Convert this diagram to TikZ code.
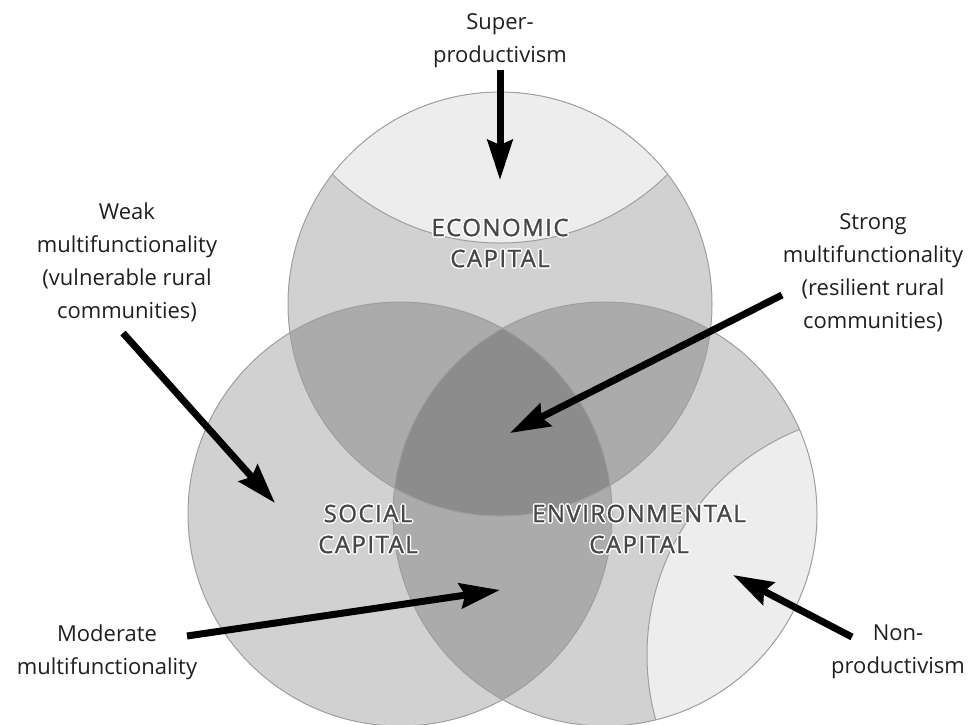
\documentclass[tikz,border=0pt]{standalone}
\usepackage{fontspec}
\setmainfont{Open Sans}
\newfontfamily\capsfont[LetterSpace=6, FakeBold=1.2]{Open Sans}
\usetikzlibrary{arrows.meta}

% circle label with a soft white halo
\newcommand{\glowlabel}[3]{%
  \foreach \dx/\dy in {1.5/0,-1.5/0,0/1.5,0/-1.5,1/1,-1/1,1/-1,-1/-1}
    \node[caplab, text=white, xshift=\dx pt, yshift=\dy pt] at #2 {#3};
  \node[caplab] (#1) at #2 {#3};}

\begin{document}
\begin{tikzpicture}[x=1pt, y=-1pt,
  capital/.style={fill=black, fill opacity=0.18},
  rim/.style={draw=black!38, line width=1pt},
  pale/.style={fill=black!7},
  caplab/.style={font=\capsfont\fontsize{24}{31}\selectfont, text=black!72, align=center},
  note/.style={font=\fontsize{22}{33}\selectfont, text=black!88, align=center, inner sep=2pt},
  bigarrow/.style={line width=7pt, -{Stealth[length=40pt,width=25pt,inset=5pt]}}]
  \useasboundingbox (0,0) rectangle (979,724);
  % centres of the three capitals, radius 212
  \coordinate (E) at (500,304);
  \coordinate (S) at (400,514);
  \coordinate (V) at (605,514);
  \fill[capital] (E) circle (212);
  \fill[capital] (S) circle (212);
  \fill[capital] (V) circle (212);
  % pale caps: super- and non-productivism
  \begin{scope}
    \clip (E) circle (212);
    \fill[pale, rim] (500,4) circle (239);
  \end{scope}
  \begin{scope}
    \clip (V) circle (212);
    \fill[pale, rim] (890,655) circle (243);
  \end{scope}
  \draw[rim] (E) circle (212);
  \draw[rim] (S) circle (212);
  \draw[rim] (V) circle (212);

  \glowlabel{econ}{(500,243)}{ECONOMIC\\CAPITAL}
  \glowlabel{soc}{(368,529)}{SOCIAL\\CAPITAL}
  \glowlabel{env}{(639,529)}{ENVIRONMENTAL\\CAPITAL}

  \node[note] (super) at (500,41) {Super-\\productivism};
  \node[note] (weak) at (127,262) {Weak\\multifunctionality\\(vulnerable rural\\communities)};
  \node[note] (strong) at (873,273) {Strong\\multifunctionality\\(resilient rural\\communities)};
  \node[note] (moderate) at (107,652) {Moderate\\multifunctionality};
  \node[note] (nonprod) at (898,652) {Non-\\productivism};

  % arrow ends
  \coordinate (super-tip) at (500,180);
  \coordinate (weak-tail) at (123,333);
  \coordinate (weak-tip) at (275,503);
  \coordinate (strong-tail) at (782,295);
  \coordinate (strong-tip) at (510,433);
  \coordinate (moderate-tail) at (187,636);
  \coordinate (moderate-tip) at (500,590);
  \coordinate (nonprod-tail) at (852,637);
  \coordinate (nonprod-tip) at (733,575);

  \draw[bigarrow] (super) -- (super-tip);
  \draw[bigarrow] (weak-tail) -- (weak-tip);
  \draw[bigarrow] (strong-tail) -- (strong-tip);
  \draw[bigarrow] (moderate-tail) -- (moderate-tip);
  \draw[bigarrow] (nonprod-tail) -- (nonprod-tip);
\end{tikzpicture}
\end{document}
